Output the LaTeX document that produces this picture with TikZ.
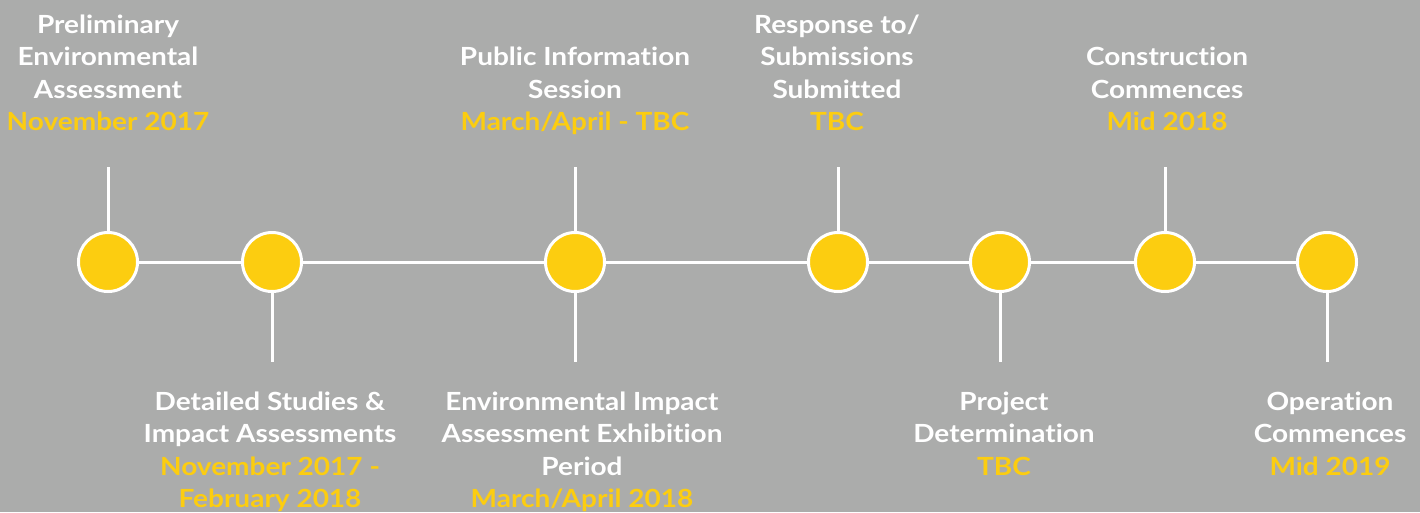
\documentclass[tikz,border=0pt]{standalone}
\usepackage{fontspec}
\setmainfont{Lato}[FakeStretch=1.12, Ligatures=NoCommon]
\definecolor{bg}{HTML}{ABACAB}
\definecolor{gold}{HTML}{FCCD10}
\tikzset{
  lbl/.style={text=white, font=\fontsize{25}{32.5}\selectfont\bfseries, align=center, inner sep=0pt, anchor=base},
  milestone/.style={circle, fill=gold, draw=white, line width=3pt, minimum size=59pt, inner sep=0pt},
  link/.style={draw=white, line width=3pt},
}
\newcommand{\dt}[1]{\textcolor{gold}{#1}}
\begin{document}
\begin{tikzpicture}[x=1pt,y=-1pt]
\fill[bg] (0,0) rectangle (1420,512);
\useasboundingbox (0,0) rectangle (1420,512);
% milestones
\node[milestone] (c1) at (108,262) {};
\node[milestone] (c2) at (272,262) {};
\node[milestone] (c3) at (575,262) {};
\node[milestone] (c4) at (838,262) {};
\node[milestone] (c5) at (1000,262) {};
\node[milestone] (c6) at (1165,262) {};
\node[milestone] (c7) at (1327,262) {};
% stub ends
\coordinate (t1) at (108,167);
\coordinate (b2) at (272,362);
\coordinate (t3) at (575,167);
\coordinate (b3) at (575,362);
\coordinate (t4) at (838,167);
\coordinate (b5) at (1000,362);
\coordinate (t6) at (1165,167);
\coordinate (b7) at (1327,362);
% timeline
\draw[link] (c1) -- (c2);
\draw[link] (c2) -- (c3);
\draw[link] (c3) -- (c4);
\draw[link] (c4) -- (c5);
\draw[link] (c5) -- (c6);
\draw[link] (c6) -- (c7);
\draw[link] (c1) -- (t1);
\draw[link] (c2) -- (b2);
\draw[link] (c3) -- (t3);
\draw[link] (c3) -- (b3);
\draw[link] (c4) -- (t4);
\draw[link] (c5) -- (b5);
\draw[link] (c6) -- (t6);
\draw[link] (c7) -- (b7);
% labels (anchor = baseline of last line)
\node[lbl] (l1) at (108,130.5) {Preliminary\\Environmental\\Assessment\\\dt{November 2017}};
\node[lbl] (l2) at (270,507.5) {Detailed Studies \&\\Impact Assessments\\\dt{November 2017 -}\\\dt{February 2018}};
\node[lbl] (l3) at (575,130.5) {Public Information\\Session\\\dt{March/April - TBC}};
\node[lbl] (l3b) at (582,507.5) {Environmental Impact\\Assessment Exhibition\\Period\\\dt{March/April 2018}};
\node[lbl] (l4) at (837,130.5) {Response to/\\Submissions\\Submitted\\\dt{TBC}};
\node[lbl] (l5) at (1004,475) {Project\\Determination\\\dt{TBC}};
\node[lbl] (l6) at (1167,130.5) {Construction\\Commences\\\dt{Mid 2018}};
\node[lbl] (l7) at (1330,475) {Operation\\Commences\\\dt{Mid 2019}};
\end{tikzpicture}
\end{document}
